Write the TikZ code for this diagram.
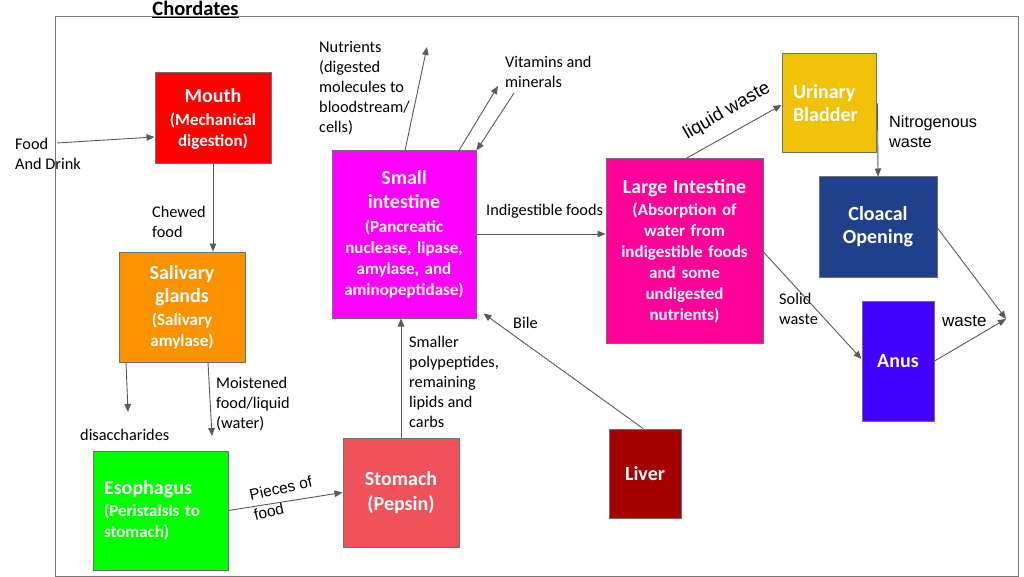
\documentclass[tikz,border=0pt]{standalone}
\usepackage{fontspec}
\setmainfont{Carlito}
\newfontfamily\arialf{Liberation Sans}
\usetikzlibrary{arrows.meta}
\definecolor{boxgray}{RGB}{112,112,112}
\definecolor{arrowgray}{RGB}{89,89,89}
\definecolor{framegray}{RGB}{120,120,120}
\definecolor{cMouth}{RGB}{255,0,0}
\definecolor{cSaliv}{RGB}{251,147,0}
\definecolor{cEsoph}{RGB}{0,255,0}
\definecolor{cStom}{RGB}{240,82,92}
\definecolor{cSmall}{RGB}{255,0,255}
\definecolor{cLarge}{RGB}{255,0,153}
\definecolor{cUrin}{RGB}{241,194,10}
\definecolor{cCloac}{RGB}{32,64,140}
\definecolor{cAnus}{RGB}{68,0,255}
\definecolor{cLiver}{RGB}{165,0,0}
\newcommand\orgt[1]{{\fontsize{20}{23}\selectfont #1}}
\begin{document}
\begin{tikzpicture}[x=1pt,y=-1pt,
 organ/.style={draw=boxgray,line width=1pt,text=white,font=\bfseries\fontsize{17}{21}\selectfont,align=center,inner xsep=3pt,inner ysep=0pt},
 big/.style={font=\bfseries\fontsize{20}{23}\selectfont},
 lbl/.style={font=\fontsize{16.3}{20}\selectfont,align=left,inner sep=0pt,anchor=west,text=black},
 albl/.style={lbl,font=\arialf\fontsize{16.3}{20}\selectfont},
 flow/.style={draw=arrowgray,line width=0.9pt,-{Triangle[length=8pt,width=6.5pt]}}]
\useasboundingbox (0,0) rectangle (1024,577);
\draw[framegray,line width=1pt] (55,17) rectangle (1018,576);
\node[font=\bfseries\fontsize{20.5}{24}\selectfont,inner sep=0pt,anchor=base] (title) at (195.5,15.5) {Chordates};
\draw[line width=1.2pt] ([yshift=-2.3pt]title.base west) -- ([yshift=-2.3pt]title.base east);

% organs
\node[organ,fill=cMouth,minimum width=116pt,minimum height=91pt,text width=110pt] (mouth) at (213,118.5) {\orgt{Mouth}\\[2pt](Mechanical\\digestion)};
\node[organ,fill=cSaliv,minimum width=126pt,minimum height=110pt,text width=120pt] (saliv) at (182,307) {\orgt{Salivary}\\[2pt]\orgt{glands}\\[2pt](Salivary\\amylase)};
\node[organ,fill=cEsoph,minimum width=135pt,minimum height=119pt,text width=113pt,align=left,inner xsep=11pt] (esoph) at (160.5,510.5) {\orgt{Esophagus}\\[1pt](Peristalsis to\\stomach)};
\node[organ,big,fill=cStom,minimum width=116pt,minimum height=109pt,text width=110pt] (stom) at (401,492.5) {Stomach\\[2pt](Pepsin)};
\node[organ,fill=cSmall,minimum width=144pt,minimum height=167pt,text width=138pt] (small) at (404,234.5) {\orgt{Small}\\[3pt]\orgt{intestine}\\[3pt](Pancreatic\\nuclease, lipase,\\amylase, and\\aminopeptidase)};
\node[organ,fill=cLarge,minimum width=157pt,minimum height=184pt,text width=151pt] (large) at (684.5,251) {\orgt{Large Intestine}\\[1pt](Absorption of\\water from\\indigestible foods\\and some\\undigested\\nutrients)};
\node[organ,big,fill=cUrin,minimum width=94pt,minimum height=99pt,text width=72pt,align=left,inner xsep=11pt] (urin) at (829,103.5) {Urinary\\Bladder};
\node[organ,big,fill=cCloac,minimum width=118pt,minimum height=100pt,text width=112pt] (cloac) at (878,227) {Cloacal\\Opening};
\node[organ,big,fill=cAnus,minimum width=72pt,minimum height=120pt,text width=66pt] (anus) at (898,361) {Anus};
\node[organ,big,fill=cLiver,minimum width=72pt,minimum height=89pt,text width=66pt] (liver) at (645,473.5) {Liver};

% labels
\node[lbl] (lfood) at (15,153.5) {Food\\And Drink};
\node[lbl] (lchew) at (152,221.5) {Chewed\\food};
\node[lbl] (ldis) at (80,435) {disaccharides};
\node[lbl] (lmoist) at (216,404) {Moistened\\food/liquid\\(water)};
\node[lbl] (lsmall) at (409,382) {Smaller\\polypeptides,\\remaining\\lipids and\\carbs};
\node[lbl] (lnut) at (319,88) {Nutrients\\(digested\\molecules to\\bloodstream/\\cells)};
\node[lbl] (lvit) at (505,72) {Vitamins and\\minerals};
\node[lbl] (lind) at (486,211) {Indigestible foods};
\node[lbl] (lbile) at (513,323) {Bile};
\node[albl,font=\arialf\fontsize{18.5}{22}\selectfont,anchor=center,rotate=30] (lliq) at (727,111) {liquid waste};
\node[albl] (lnit) at (889,132) {Nitrogenous\\waste};
\node[lbl] (lsol) at (779,308.5) {Solid\\waste};
\node[albl,font=\arialf\fontsize{17}{20}\selectfont] (lwaste) at (942,321) {waste};
\node[albl,font=\arialf\fontsize{15.5}{20}\selectfont,anchor=center,rotate=13] (lpie) at (283,498) {Pieces of\\food};

% free ends
\coordinate (fd) at (57,143);
\coordinate (cdis) at (128,412);
\coordinate (cmo) at (212,436);
\coordinate (cnut) at (427,47);
\coordinate (cv1) at (498,86);
\coordinate (cv2) at (514,93);
\coordinate (cwp) at (1006,319);

% connectors
\draw[flow] (fd) -- ([yshift=-18.5pt]mouth.west);
\draw[flow] (mouth.south) -- (mouth.south |- saliv.north);
\draw[flow] ([xshift=-56pt]saliv.south) -- (cdis);
\draw[flow] ([xshift=26pt]saliv.south) -- (cmo);
\draw[flow] (esoph.east) -- (stom.west);
\draw[flow] (stom.north) -- (stom.north |- small.south);
\draw[flow] ([xshift=1pt]small.north) -- (cnut);
\draw[flow] ([xshift=55pt]small.north) -- (cv1);
\draw[flow] (cv2) -- (small.north east);
\draw[flow] ([yshift=0.5pt]small.east) -- ([yshift=0.5pt]small.east -| large.west);
\draw[flow] ([xshift=-2pt]liver.north) -- ([xshift=7pt,yshift=5pt]small.south east);
\draw[flow] ([xshift=1.5pt]large.north) -- ([yshift=-1.5pt]urin.west);
\draw[flow] ([xshift=1pt]urin.east) -- (cloac.north);
\draw[flow] ([yshift=-1pt]large.east) -- ([yshift=2pt]anus.west);
\draw[flow] ([yshift=-1pt]cloac.east) -- (cwp);
\draw[flow] (anus.east) -- (cwp);
\end{tikzpicture}
\end{document}
